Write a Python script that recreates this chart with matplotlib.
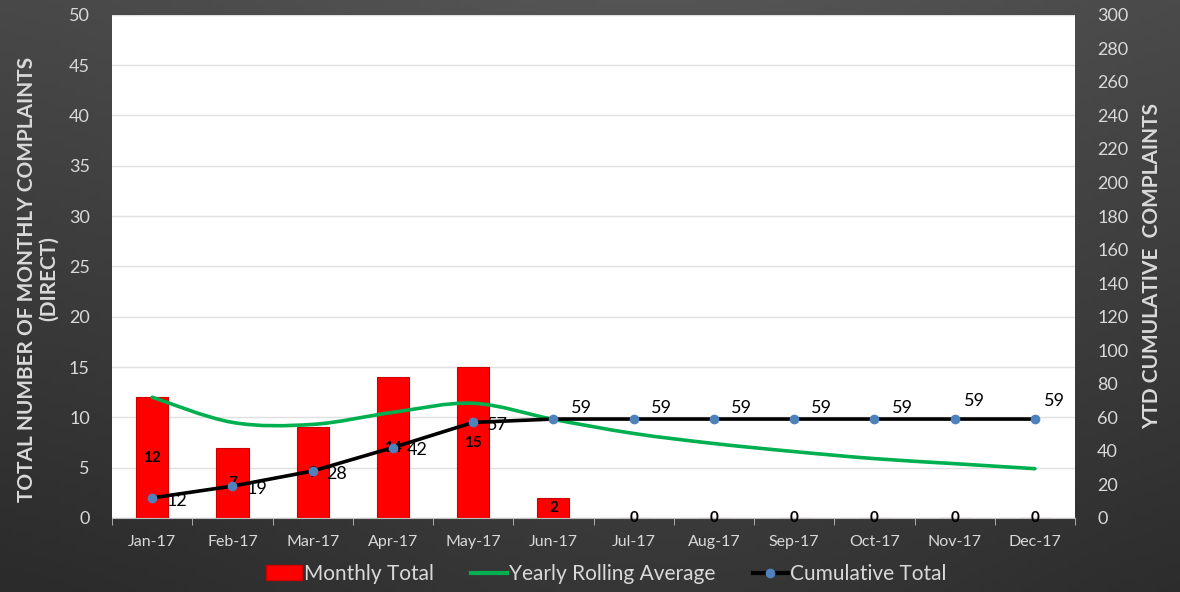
import numpy as np
import matplotlib.pyplot as plt
from matplotlib.path import Path
from matplotlib.patches import PathPatch, Patch
from matplotlib.lines import Line2D
from matplotlib.colors import LinearSegmentedColormap

plt.rcParams['font.family'] = ['Lato', 'DejaVu Sans']

months = ['Jan-17', 'Feb-17', 'Mar-17', 'Apr-17', 'May-17', 'Jun-17',
          'Jul-17', 'Aug-17', 'Sep-17', 'Oct-17', 'Nov-17', 'Dec-17']
monthly_total = [12, 7, 9, 14, 15, 2, 0, 0, 0, 0, 0, 0]
rolling_avg = [12.0, 9.5, 9.3, 10.5, 11.4, 9.8, 8.4, 7.4, 6.6, 5.9, 5.4, 4.9]
cumulative = [12, 19, 28, 42, 57, 59, 59, 59, 59, 59, 59, 59]

TXT = '#d9d9d9'

def smooth_path(xs, ys):
    # bezier path like Excel's "smoothed line"
    pts = np.column_stack([xs, ys]).astype(float)
    n = len(pts)
    verts = [pts[0]]
    codes = [Path.MOVETO]
    for i in range(n - 1):
        p0 = pts[i - 1] if i > 0 else pts[i]
        p1 = pts[i]
        p2 = pts[i + 1]
        p3 = pts[i + 2] if i + 2 < n else pts[i + 1]
        verts += [p1 + (p2 - p0) / 6.0, p2 - (p3 - p1) / 6.0, p2]
        codes += [Path.CURVE4] * 3
    return Path(verts, codes)

fig = plt.figure(figsize=(11.8, 5.92), dpi=100)

# dark gradient background
bg = fig.add_axes([0, 0, 1, 1], zorder=-10)
gx, gy = np.meshgrid(np.linspace(0, 1, 200), np.linspace(0, 1, 100))
grad = 0.55 * gy + 0.25 * np.exp(-((gx - 0.55) ** 2) / 0.15)
cmap = LinearSegmentedColormap.from_list('bg', ['#2b2b2b', '#545454'])
bg.imshow(grad, cmap=cmap, origin='lower', aspect='auto', extent=[0, 1, 0, 1])
bg.axis('off')

ax = fig.add_axes([0.095, 0.125, 0.816, 0.85])
ax.set_facecolor('white')
x = np.arange(len(months))

bars = ax.bar(x, monthly_total, width=0.4, color='#ff0000', edgecolor='#cc0000',
              linewidth=0.8, zorder=2)
for xi, v in zip(x, monthly_total):
    ax.text(xi, v / 2.0, str(v), ha='center', va='center', fontsize=11,
            fontweight='bold', color='black', zorder=6)

ax.add_patch(PathPatch(smooth_path(x, rolling_avg), fill=False, edgecolor='#00b050',
                       lw=2.6, zorder=3, capstyle='round'))

ax.set_xlim(-0.5, 11.5)
ax.set_ylim(0, 50)
ax.set_yticks(range(0, 51, 5))
ax.yaxis.grid(True, color='#e0e0e0', lw=1)
ax.set_axisbelow(True)
ax.set_xticks(x)
ax.set_xticklabels(months)
ax.set_xticks(np.arange(-0.5, 12, 1), minor=True)
ax.tick_params(axis='x', which='major', length=0, pad=12, labelsize=11.5, colors=TXT)
ax.tick_params(axis='x', which='minor', length=5, color='#bfbfbf', direction='out')
ax.tick_params(axis='y', length=0, pad=16, labelsize=13, colors=TXT)
for s in ['top', 'left', 'right']:
    ax.spines[s].set_visible(False)
ax.spines['bottom'].set_color('#bfbfbf')
ax.set_ylabel('TOTAL NUMBER OF MONTHLY COMPLAINTS\n(DIRECT)', fontsize=15,
              fontweight='bold', color=TXT, labelpad=7, linespacing=1.15)
ax.yaxis.label.set_y(0.475)

ax2 = ax.twinx()
ax2.plot(x, cumulative, color='black', lw=2.6, marker='o', markersize=6,
         markerfacecolor='#4f81bd', markeredgecolor='#4f81bd', zorder=5)
for i, (xi, v) in enumerate(zip(x, cumulative)):
    if i < 5:
        ax2.annotate(str(v), (xi, v), xytext=(10, -2), textcoords='offset points',
                     ha='left', va='center', fontsize=13, color='black')
    else:
        dx, dy = (14, 13) if i >= 10 else (20, 8)
        ax2.annotate(str(v), (xi, v), xytext=(dx, dy), textcoords='offset points',
                     ha='center', va='center', fontsize=13, color='black')
ax2.set_ylim(0, 300)
ax2.set_yticks(range(0, 301, 20))
ax2.tick_params(axis='y', length=0, pad=16, labelsize=13, colors=TXT)
for s in ax2.spines.values():
    s.set_visible(False)
ax2.set_ylabel('YTD CUMULATIVE  COMPLAINTS', fontsize=15, fontweight='bold',
               color=TXT, labelpad=10)

handles = [Patch(facecolor='#ff0000', edgecolor='#cc0000'),
           Line2D([], [], color='#00b050', lw=3),
           Line2D([], [], color='black', lw=3, marker='o', markersize=6,
                  markerfacecolor='#4f81bd', markeredgecolor='#4f81bd')]
fig.legend(handles, ['Monthly Total', 'Yearly Rolling Average', 'Cumulative Total'],
           loc='lower center', bbox_to_anchor=(0.514, -0.018), ncol=3, frameon=False,
           fontsize=15, labelcolor=TXT, handlelength=1.7, handletextpad=0.1,
           columnspacing=1.8)

fig.savefig('out.png', dpi=100)
